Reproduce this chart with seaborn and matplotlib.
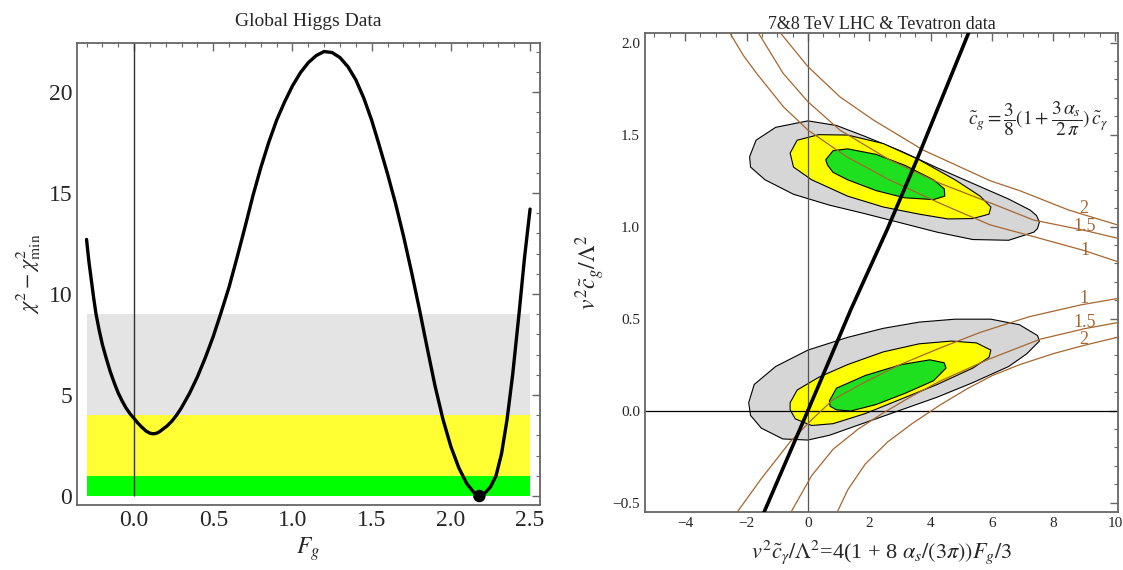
"""Global Higgs fit: chi^2 profile in F_g and the (c_gamma, c_g) plane."""

import matplotlib

matplotlib.use("Agg")
import matplotlib.pyplot as plt
from matplotlib.ticker import MultipleLocator
import pandas as pd
import seaborn as sns

# ---- left panel: chi^2 - chi^2_min along F_g
fg = [-0.300, -0.285, -0.270, -0.255, -0.240, -0.220, -0.200, -0.175, -0.150, -0.125,
      -0.100, -0.075, -0.050, -0.025, 0.000, 0.025, 0.050, 0.075, 0.100, 0.120,
      0.140, 0.160, 0.180, 0.210, 0.240, 0.270, 0.300, 0.350, 0.400, 0.450,
      0.500, 0.550, 0.600, 0.650, 0.700, 0.750, 0.800, 0.850, 0.900, 0.950,
      1.000, 1.050, 1.100, 1.150, 1.200, 1.250, 1.300, 1.350, 1.400, 1.450,
      1.500, 1.550, 1.600, 1.650, 1.700, 1.750, 1.800, 1.850, 1.900, 1.950,
      2.000, 2.050, 2.100, 2.150, 2.180, 2.210, 2.250, 2.285, 2.320, 2.355,
      2.390, 2.430, 2.465, 2.500]
dchi2 = [12.7, 11.6, 10.7, 9.8, 9.0, 8.2, 7.5, 6.8, 6.15, 5.6,
         5.1, 4.7, 4.35, 4.07, 3.84, 3.6, 3.4, 3.22, 3.11, 3.08,
         3.1, 3.18, 3.3, 3.48, 3.72, 4.02, 4.38, 5.08, 5.9, 6.85,
         7.9, 9.1, 10.35, 11.8, 13.3, 14.85, 16.25, 17.5, 18.6, 19.5,
         20.3, 20.95, 21.45, 21.8, 22.0, 21.95, 21.7, 21.25, 20.6, 19.7,
         18.6, 17.3, 15.95, 14.5, 12.9, 11.15, 9.3, 7.35, 5.45, 3.8,
         2.45, 1.4, 0.62, 0.13, 0.0, 0.1, 0.45, 1.0, 2.1, 3.8,
         6.0, 9.0, 11.8, 14.2]
fg_best = 2.18
band_x = [-0.3, 2.5]
band_edges = [0, 1, 4, 9]
band_colors = ["#00ff00", "#ffff33", "#e4e4e4"]

# ---- right panel: 1/2/3 sigma regions (two degenerate solutions)
upper_3s = [(-1.90, 1.38), (-1.69, 1.47), (-1.05, 1.54), (0.0, 1.575), (0.93, 1.55),
            (1.87, 1.49), (3.04, 1.41), (4.21, 1.32), (5.37, 1.235), (6.54, 1.15),
            (7.24, 1.09), (7.45, 1.06), (7.54, 1.025), (7.48, 0.99), (7.36, 0.97),
            (6.54, 0.926), (5.37, 0.93), (4.21, 0.97), (3.04, 1.02), (1.87, 1.07),
            (0.70, 1.117), (-0.47, 1.176), (-1.40, 1.255), (-1.87, 1.324)]
upper_2s = [(-0.58, 1.40), (-0.35, 1.47), (0.35, 1.50), (1.29, 1.498), (2.45, 1.452),
            (3.62, 1.364), (4.79, 1.255), (5.61, 1.166), (5.96, 1.107), (5.90, 1.068),
            (5.37, 1.044), (4.56, 1.042), (3.62, 1.068), (2.45, 1.107), (1.29, 1.166),
            (0.12, 1.255), (-0.47, 1.324)]
upper_1s = [(0.58, 1.364), (0.82, 1.413), (1.29, 1.423), (2.22, 1.393), (3.15, 1.334),
            (4.09, 1.255), (4.44, 1.206), (4.46, 1.166), (4.09, 1.147), (3.15, 1.157),
            (2.22, 1.196), (1.29, 1.255), (0.82, 1.295), (0.64, 1.334)]
lower_3s = [(-1.93, 0.043), (-1.75, 0.142), (-1.05, 0.24), (0.0, 0.329), (1.29, 0.398),
            (2.45, 0.447), (3.62, 0.481), (4.79, 0.497), (5.96, 0.497), (6.89, 0.467),
            (7.48, 0.408), (7.54, 0.378), (7.13, 0.309), (6.54, 0.24), (5.37, 0.152),
            (4.21, 0.073), (3.04, 0.004), (1.87, -0.065), (0.70, -0.134), (0.0, -0.16),
            (-0.82, -0.154), (-1.52, -0.095), (-1.87, -0.026)]
lower_2s = [(-0.58, 0.043), (-0.35, 0.112), (0.35, 0.181), (1.29, 0.25), (2.45, 0.319),
            (3.62, 0.363), (4.67, 0.378), (5.49, 0.368), (5.96, 0.329), (5.90, 0.29),
            (5.37, 0.231), (4.21, 0.142), (3.04, 0.063), (1.87, -0.016), (0.82, -0.071),
            (0.12, -0.081), (-0.41, -0.045), (-0.58, 0.004)]
lower_1s = [(0.70, 0.053), (0.93, 0.122), (1.87, 0.191), (3.04, 0.25), (3.97, 0.276),
            (4.44, 0.26), (4.50, 0.231), (4.09, 0.162), (3.15, 0.093), (2.22, 0.033),
            (1.40, -0.002), (0.93, 0.004), (0.72, 0.024)]
region_colors = ["#d6d6d6", "#ffff00", "#1ee01e"]

# brown curves of constant ratio, with their labels
ratio_curves = {
    "upper 1": [(-2.57, 2.06), (-2.1, 1.93), (-1.67, 1.833), (-0.80, 1.652), (0.0, 1.525),
                (1.26, 1.38), (2.67, 1.253), (4.30, 1.127), (5.93, 1.01), (7.35, 0.946),
                (9.0, 0.87), (10.27, 0.80)],
    "upper 1.5": [(-1.64, 2.06), (-0.81, 1.834), (0.0, 1.679), (1.04, 1.525), (2.67, 1.362),
                  (4.30, 1.236), (5.93, 1.13), (7.35, 1.036), (9.0, 0.98), (10.27, 0.93)],
    "upper 2": [(-0.93, 2.06), (0.0, 1.87), (1.04, 1.706), (2.13, 1.58), (3.76, 1.416),
                (5.93, 1.25), (6.91, 1.195), (8.5, 1.09), (10.27, 1.0)],
    "lower 1": [(-2.34, -0.56), (-1.52, -0.37), (-0.58, -0.17), (0.12, -0.05), (0.82, 0.06),
                (1.8, 0.15), (3.0, 0.25), (4.3, 0.34), (5.61, 0.425), (7.2, 0.51),
                (8.87, 0.574), (10.27, 0.615)],
    "lower 1.5": [(-0.58, -0.56), (0.12, -0.354), (0.82, -0.21), (1.64, -0.10), (2.45, -0.013),
                  (3.4, 0.08), (4.3, 0.16), (5.9, 0.28), (7.56, 0.388), (9.0, 0.445),
                  (10.27, 0.484)],
    "lower 2": [(0.93, -0.56), (1.3, -0.43), (1.87, -0.29), (2.6, -0.17), (3.4, -0.07),
                (4.3, 0.03), (5.2, 0.12), (6.0, 0.19), (6.9, 0.25), (8.0, 0.31),
                (9.0, 0.355), (10.27, 0.406)],
}
ratio_labels = [("2", 8.98, 1.10), ("1.5", 9.03, 1.00), ("1", 9.01, 0.873),
                ("1", 9.0, 0.61), ("1.5", 9.03, 0.48), ("2", 9.0, 0.385)]

# F_g line mapped into the plane
fg_line = [(-1.45, -0.56), (0.0, 0.0), (1.4, 0.55), (2.57, 0.98), (3.54, 1.36), (5.25, 2.06)]

BROWN = "#a5672f"
SPINE = "#666666"

sns.set_style("white")
plt.rcParams["font.family"] = ["Liberation Serif", "DejaVu Serif"]
plt.rcParams["mathtext.fontset"] = "stix"


def style_axes(ax, tick_size):
    for sp in ax.spines.values():
        sp.set_color(SPINE)
        sp.set_linewidth(1.3)
    ax.tick_params(which="both", direction="in", top=True, right=True,
                   color=SPINE, labelsize=tick_size)
    ax.tick_params(which="major", length=6, width=1.0)
    ax.tick_params(which="minor", length=3, width=0.8)


fig = plt.figure(figsize=(11.23, 5.70), dpi=100)

# ---------------- left panel
ax1 = fig.add_axes([0.0686, 0.114, 0.4123, 0.8105])
for lo, hi, col in zip(band_edges[:-1], band_edges[1:], band_colors):
    ax1.fill_between(band_x, lo, hi, color=col, lw=0, zorder=1)
ax1.vlines(0, 0, 30, color="#333333", lw=1.0, zorder=2)
df_left = pd.DataFrame({"fg": fg, "dchi2": dchi2})
sns.lineplot(data=df_left, x="fg", y="dchi2", ax=ax1, color="black", lw=2.4,
             sort=False, estimator=None, zorder=3)
sns.scatterplot(x=[fg_best], y=[0.0], ax=ax1, color="black", s=80,
                edgecolor="none", zorder=4)
ax1.set_xlim(-0.36, 2.563)
ax1.set_ylim(-0.445, 22.42)
ax1.xaxis.set_major_locator(MultipleLocator(0.5))
ax1.xaxis.set_minor_locator(MultipleLocator(0.1))
ax1.yaxis.set_major_locator(MultipleLocator(5))
ax1.yaxis.set_minor_locator(MultipleLocator(1))
style_axes(ax1, 17)
ax1.set_title("Global Higgs Data", fontsize=14, pad=12)
ax1.set_xlabel(r"$F_g$", fontsize=17, labelpad=3)
ax1.set_ylabel(r"$\chi^2 - \chi^2_{\min}$", fontsize=16, labelpad=4)

# ---------------- right panel
ax2 = fig.add_axes([0.5743, 0.1018, 0.4212, 0.8404])
for pts_set in [(upper_3s, upper_2s, upper_1s), (lower_3s, lower_2s, lower_1s)]:
    for pts, col in zip(pts_set, region_colors):
        xs, ys = zip(*pts)
        ax2.fill(xs, ys, facecolor=col, edgecolor="black", lw=0.8, zorder=1)

ax2.axvline(0, color="#555555", lw=0.9, zorder=2)
ax2.axhline(0, color="black", lw=0.9, zorder=2)

for name, pts in ratio_curves.items():
    xs, ys = zip(*pts)
    sns.lineplot(x=list(xs), y=list(ys), ax=ax2, color=BROWN, lw=0.9,
                 sort=False, estimator=None, zorder=3)
for txt, tx, ty in ratio_labels:
    ax2.text(tx, ty, txt, color=BROWN, fontsize=13, ha="center", va="center", zorder=4)

lx, ly = zip(*fg_line)
sns.lineplot(x=list(lx), y=list(ly), ax=ax2, color="black", lw=2.6,
             sort=False, estimator=None, zorder=5)

ax2.text(7.5, 1.59,
         r"$\tilde{c}_g = \dfrac{3}{8}(1 + \dfrac{3\,\alpha_s}{2\,\pi})\,\tilde{c}_\gamma$",
         fontsize=14, ha="center", va="center", zorder=6)

ax2.set_xlim(-5.31, 10.1)
ax2.set_ylim(-0.551, 2.053)
ax2.xaxis.set_major_locator(MultipleLocator(2))
ax2.xaxis.set_minor_locator(MultipleLocator(0.5))
ax2.yaxis.set_major_locator(MultipleLocator(0.5))
ax2.yaxis.set_minor_locator(MultipleLocator(0.1))
style_axes(ax2, 11)
ax2.set_title("7&8 TeV LHC & Tevatron data", fontsize=13, pad=3)
ax2.set_xlabel(r"$v^2\tilde{c}_\gamma/\Lambda^2$=4(1 + 8 $\alpha_s/(3\pi))F_g/3$",
               fontsize=16, labelpad=6)
ax2.set_ylabel(r"$v^2\tilde{c}_g/\Lambda^2$", fontsize=17, labelpad=4)

fig.savefig("out.png", dpi=100)
plt.close(fig)
